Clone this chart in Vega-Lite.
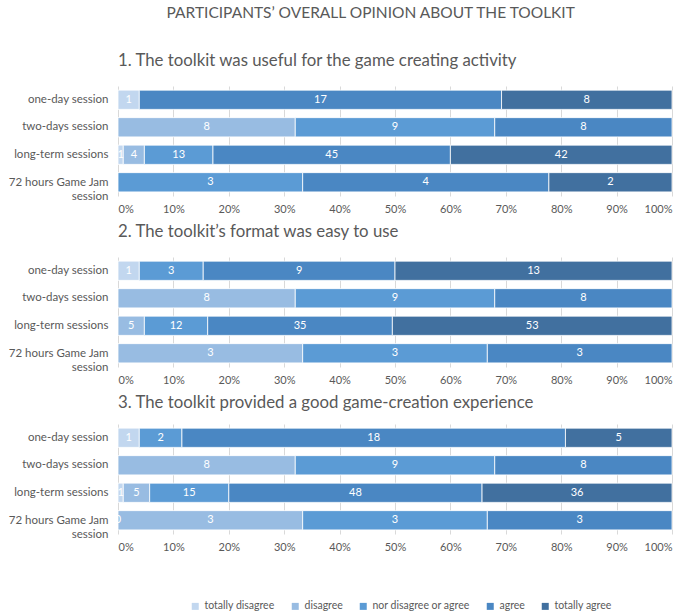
{
  "$schema": "https://vega.github.io/schema/vega-lite/v6.json",
  "background": "white",
  "padding": 5,
  "title": {"text": "PARTICIPANTS’ OVERALL OPINION ABOUT THE TOOLKIT", "fontSize": 15.5, "fontWeight": "normal", "color": "#595959", "font": "Lato", "anchor": "middle", "frame": "bounds", "dx": 32, "offset": 32},
  "data": {"values": [
    {"q": "1. The toolkit was useful for the game creating activity", "session": "one-day session", "cat": "totally disagree", "r": 1, "n": 1},
    {"q": "1. The toolkit was useful for the game creating activity", "session": "one-day session", "cat": "agree", "r": 4, "n": 17},
    {"q": "1. The toolkit was useful for the game creating activity", "session": "one-day session", "cat": "totally agree", "r": 5, "n": 8},
    {"q": "1. The toolkit was useful for the game creating activity", "session": "two-days session", "cat": "disagree", "r": 2, "n": 8},
    {"q": "1. The toolkit was useful for the game creating activity", "session": "two-days session", "cat": "nor disagree or agree", "r": 3, "n": 9},
    {"q": "1. The toolkit was useful for the game creating activity", "session": "two-days session", "cat": "agree", "r": 4, "n": 8},
    {"q": "1. The toolkit was useful for the game creating activity", "session": "long-term sessions", "cat": "totally disagree", "r": 1, "n": 1},
    {"q": "1. The toolkit was useful for the game creating activity", "session": "long-term sessions", "cat": "disagree", "r": 2, "n": 4},
    {"q": "1. The toolkit was useful for the game creating activity", "session": "long-term sessions", "cat": "nor disagree or agree", "r": 3, "n": 13},
    {"q": "1. The toolkit was useful for the game creating activity", "session": "long-term sessions", "cat": "agree", "r": 4, "n": 45},
    {"q": "1. The toolkit was useful for the game creating activity", "session": "long-term sessions", "cat": "totally agree", "r": 5, "n": 42},
    {"q": "1. The toolkit was useful for the game creating activity", "session": "72 hours Game Jam session", "cat": "nor disagree or agree", "r": 3, "n": 3},
    {"q": "1. The toolkit was useful for the game creating activity", "session": "72 hours Game Jam session", "cat": "agree", "r": 4, "n": 4},
    {"q": "1. The toolkit was useful for the game creating activity", "session": "72 hours Game Jam session", "cat": "totally agree", "r": 5, "n": 2},
    {"q": "2. The toolkit’s format was easy to use", "session": "one-day session", "cat": "totally disagree", "r": 1, "n": 1},
    {"q": "2. The toolkit’s format was easy to use", "session": "one-day session", "cat": "nor disagree or agree", "r": 3, "n": 3},
    {"q": "2. The toolkit’s format was easy to use", "session": "one-day session", "cat": "agree", "r": 4, "n": 9},
    {"q": "2. The toolkit’s format was easy to use", "session": "one-day session", "cat": "totally agree", "r": 5, "n": 13},
    {"q": "2. The toolkit’s format was easy to use", "session": "two-days session", "cat": "disagree", "r": 2, "n": 8},
    {"q": "2. The toolkit’s format was easy to use", "session": "two-days session", "cat": "nor disagree or agree", "r": 3, "n": 9},
    {"q": "2. The toolkit’s format was easy to use", "session": "two-days session", "cat": "agree", "r": 4, "n": 8},
    {"q": "2. The toolkit’s format was easy to use", "session": "long-term sessions", "cat": "disagree", "r": 2, "n": 5},
    {"q": "2. The toolkit’s format was easy to use", "session": "long-term sessions", "cat": "nor disagree or agree", "r": 3, "n": 12},
    {"q": "2. The toolkit’s format was easy to use", "session": "long-term sessions", "cat": "agree", "r": 4, "n": 35},
    {"q": "2. The toolkit’s format was easy to use", "session": "long-term sessions", "cat": "totally agree", "r": 5, "n": 53},
    {"q": "2. The toolkit’s format was easy to use", "session": "72 hours Game Jam session", "cat": "disagree", "r": 2, "n": 3},
    {"q": "2. The toolkit’s format was easy to use", "session": "72 hours Game Jam session", "cat": "nor disagree or agree", "r": 3, "n": 3},
    {"q": "2. The toolkit’s format was easy to use", "session": "72 hours Game Jam session", "cat": "agree", "r": 4, "n": 3},
    {"q": "3. The toolkit provided a good game-creation experience", "session": "one-day session", "cat": "totally disagree", "r": 1, "n": 1},
    {"q": "3. The toolkit provided a good game-creation experience", "session": "one-day session", "cat": "nor disagree or agree", "r": 3, "n": 2},
    {"q": "3. The toolkit provided a good game-creation experience", "session": "one-day session", "cat": "agree", "r": 4, "n": 18},
    {"q": "3. The toolkit provided a good game-creation experience", "session": "one-day session", "cat": "totally agree", "r": 5, "n": 5},
    {"q": "3. The toolkit provided a good game-creation experience", "session": "two-days session", "cat": "disagree", "r": 2, "n": 8},
    {"q": "3. The toolkit provided a good game-creation experience", "session": "two-days session", "cat": "nor disagree or agree", "r": 3, "n": 9},
    {"q": "3. The toolkit provided a good game-creation experience", "session": "two-days session", "cat": "agree", "r": 4, "n": 8},
    {"q": "3. The toolkit provided a good game-creation experience", "session": "long-term sessions", "cat": "totally disagree", "r": 1, "n": 1},
    {"q": "3. The toolkit provided a good game-creation experience", "session": "long-term sessions", "cat": "disagree", "r": 2, "n": 5},
    {"q": "3. The toolkit provided a good game-creation experience", "session": "long-term sessions", "cat": "nor disagree or agree", "r": 3, "n": 15},
    {"q": "3. The toolkit provided a good game-creation experience", "session": "long-term sessions", "cat": "agree", "r": 4, "n": 48},
    {"q": "3. The toolkit provided a good game-creation experience", "session": "long-term sessions", "cat": "totally agree", "r": 5, "n": 36},
    {"q": "3. The toolkit provided a good game-creation experience", "session": "72 hours Game Jam session", "cat": "totally disagree", "r": 1, "n": 0},
    {"q": "3. The toolkit provided a good game-creation experience", "session": "72 hours Game Jam session", "cat": "disagree", "r": 2, "n": 3},
    {"q": "3. The toolkit provided a good game-creation experience", "session": "72 hours Game Jam session", "cat": "nor disagree or agree", "r": 3, "n": 3},
    {"q": "3. The toolkit provided a good game-creation experience", "session": "72 hours Game Jam session", "cat": "agree", "r": 4, "n": 3}
  ]},
  "transform": [
    {"stack": "n", "groupby": ["q", "session"], "sort": [{"field": "r", "order": "ascending"}], "offset": "normalize", "as": ["x0", "x1"]}
  ],
  "spacing": 10,
  "vconcat": [
    {
      "title": "1. The toolkit was useful for the game creating activity",
      "transform": [{"filter": "indexof(datum.q, '1.') == 0"}],
      "width": 554, "height": 110,
      "encoding": {"y": {"field": "session", "type": "nominal", "title": null, "sort": ["one-day session", "two-days session", "long-term sessions", "72 hours Game Jam session"]}},
      "layer": [
        {"mark": {"type": "bar", "stroke": "white", "strokeWidth": 0.8},
         "encoding": {"x": {"field": "x0", "type": "quantitative", "title": null}, "x2": {"field": "x1"},
           "color": {"field": "cat", "type": "nominal", "scale": {"domain": ["totally disagree", "disagree", "nor disagree or agree", "agree", "totally agree"], "range": ["#c2d7ef", "#98bce2", "#5b9bd5", "#4a87c3", "#41709f"]}}}},
        {"transform": [{"fold": ["x0", "x1"], "as": ["edge", "pos"]}],
         "mark": {"type": "text", "color": "white", "font": "Lato", "fontSize": 11},
         "encoding": {"x": {"aggregate": "mean", "field": "pos", "type": "quantitative"}, "detail": {"field": "cat"}, "text": {"aggregate": "max", "field": "n", "type": "quantitative"}}}
      ]
    },
    {
      "title": "2. The toolkit’s format was easy to use",
      "transform": [{"filter": "indexof(datum.q, '2.') == 0"}],
      "width": 554, "height": 110,
      "encoding": {"y": {"field": "session", "type": "nominal", "title": null, "sort": ["one-day session", "two-days session", "long-term sessions", "72 hours Game Jam session"]}},
      "layer": [
        {"mark": {"type": "bar", "stroke": "white", "strokeWidth": 0.8},
         "encoding": {"x": {"field": "x0", "type": "quantitative", "title": null}, "x2": {"field": "x1"},
           "color": {"field": "cat", "type": "nominal", "scale": {"domain": ["totally disagree", "disagree", "nor disagree or agree", "agree", "totally agree"], "range": ["#c2d7ef", "#98bce2", "#5b9bd5", "#4a87c3", "#41709f"]}}}},
        {"transform": [{"fold": ["x0", "x1"], "as": ["edge", "pos"]}],
         "mark": {"type": "text", "color": "white", "font": "Lato", "fontSize": 11},
         "encoding": {"x": {"aggregate": "mean", "field": "pos", "type": "quantitative"}, "detail": {"field": "cat"}, "text": {"aggregate": "max", "field": "n", "type": "quantitative"}}}
      ]
    },
    {
      "title": {"text": "3. The toolkit provided a good game-creation experience", "offset": 12},
      "transform": [{"filter": "indexof(datum.q, '3.') == 0"}],
      "width": 554, "height": 110,
      "encoding": {"y": {"field": "session", "type": "nominal", "title": null, "sort": ["one-day session", "two-days session", "long-term sessions", "72 hours Game Jam session"]}},
      "layer": [
        {"mark": {"type": "bar", "stroke": "white", "strokeWidth": 0.8},
         "encoding": {"x": {"field": "x0", "type": "quantitative", "title": null}, "x2": {"field": "x1"},
           "color": {"field": "cat", "type": "nominal", "scale": {"domain": ["totally disagree", "disagree", "nor disagree or agree", "agree", "totally agree"], "range": ["#c2d7ef", "#98bce2", "#5b9bd5", "#4a87c3", "#41709f"]}}}},
        {"transform": [{"fold": ["x0", "x1"], "as": ["edge", "pos"]}],
         "mark": {"type": "text", "color": "white", "font": "Lato", "fontSize": 11},
         "encoding": {"x": {"aggregate": "mean", "field": "pos", "type": "quantitative"}, "detail": {"field": "cat"}, "text": {"aggregate": "max", "field": "n", "type": "quantitative"}}}
      ]
    }
  ],
  "config": {
    "view": {"stroke": null},
    "title": {"anchor": "start", "frame": "group", "fontSize": 16.8, "fontWeight": "normal", "font": "Lato", "color": "#595959", "offset": 16},
    "scale": {"bandPaddingInner": 0.3, "bandPaddingOuter": 0.15},
    "axisY": {"domain": false, "ticks": false, "grid": false, "labelFont": "Lato", "labelFontSize": 11.5, "labelColor": "#595959", "labelPadding": 10, "minExtent": 113, "maxExtent": 113, "labelLimit": 200,
      "labelExpr": "datum.value == '72 hours Game Jam session' ? ['72 hours Game Jam', 'session'] : datum.value",
      "labelOffset": {"condition": {"test": "datum.value == '72 hours Game Jam session'", "value": 1}, "value": 0}},
    "axisX": {"format": ".0%", "values": [0, 0.1, 0.2, 0.3, 0.4, 0.5, 0.6, 0.7, 0.8, 0.9, 1], "domain": false, "ticks": false, "gridColor": "#d9d9d9", "labelFont": "Lato", "labelFontSize": 11, "labelColor": "#595959", "labelPadding": 7},
    "legend": {"orient": "none", "direction": "horizontal", "legendX": 72, "legendY": 515, "title": null, "symbolType": "square", "symbolSize": 49, "symbolStrokeWidth": 0, "labelFont": "Lato", "labelFontSize": 10.5, "labelColor": "#595959", "columnPadding": 15, "labelOffset": 4}
  },
  "resolve": {"scale": {"color": "shared"}}
}
